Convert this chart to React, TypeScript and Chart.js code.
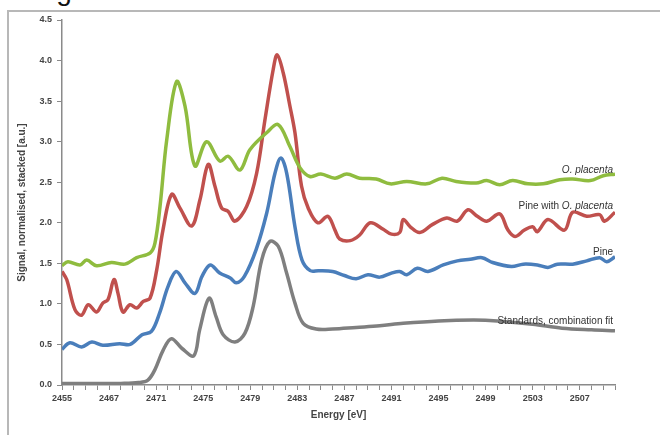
import React, { useEffect, useRef } from "react";
import { Chart, registerables } from "chart.js";

Chart.register(...registerables);

// ---------------- data ----------------
const greenEnergy = [2455, 2456.5, 2459.6, 2461.3, 2463.8, 2467.2, 2468.35, 2469.35, 2470.5, 2470.9, 2471.33, 2471.9, 2472.74, 2473.45, 2474.3, 2475.29, 2476.42, 2477.13, 2478.12, 2478.97, 2480.39, 2481.38, 2482.37, 2483.22, 2484.07, 2485.0, 2486.2, 2487.2, 2488.3, 2489.7, 2490.9, 2492.3, 2494.0, 2495.3, 2496.5, 2498.2, 2499.1, 2500.2, 2501.3, 2502.6, 2503.9, 2505.3, 2506.4, 2507.9, 2509.0, 2510.0];
const greenSignal = [1.47, 1.52, 1.48, 1.54, 1.47, 1.51, 1.49, 1.57, 1.63, 1.75, 2.2, 3.02, 3.74, 3.44, 2.7, 3.0, 2.76, 2.82, 2.65, 2.9, 3.11, 3.21, 2.94, 2.68, 2.57, 2.6, 2.55, 2.6, 2.55, 2.54, 2.48, 2.51, 2.48, 2.55, 2.51, 2.49, 2.52, 2.47, 2.52, 2.48, 2.48, 2.53, 2.54, 2.52, 2.58, 2.6];

const redEnergy = [2455, 2456.2, 2458.3, 2460.0, 2461.7, 2463.8, 2465.4, 2466.7, 2467.42, 2467.76, 2468.18, 2468.78, 2469.35, 2469.91, 2470.48, 2471.05, 2471.58, 2472.32, 2473.03, 2474.02, 2474.72, 2475.43, 2476.0, 2476.57, 2477.13, 2477.7, 2478.69, 2479.54, 2480.25, 2480.95, 2481.29, 2481.8, 2482.37, 2482.8, 2483.36, 2483.93, 2484.75, 2485.6, 2486.2, 2486.6, 2487.5, 2488.3, 2489.2, 2490.3, 2491.0, 2491.7, 2492.0, 2492.6, 2493.4, 2494.5, 2495.7, 2496.6, 2497.5, 2498.3, 2499.1, 2500.2, 2500.9, 2501.5, 2502.3, 2503.0, 2503.4, 2504.3, 2505.7, 2506.4, 2507.6, 2508.7, 2509.1, 2510.0];
const redSignal = [1.4, 1.3, 0.93, 0.86, 0.99, 0.9, 1.01, 1.05, 1.3, 1.13, 0.9, 0.99, 0.95, 1.03, 1.07, 1.42, 1.91, 2.35, 2.18, 1.96, 2.28, 2.72, 2.45, 2.18, 2.14, 2.02, 2.2, 2.61, 3.27, 3.89, 4.07, 3.85, 3.44, 3.11, 2.45, 2.18, 2.0, 2.08, 1.91, 1.8, 1.78, 1.85, 2.0, 1.92, 1.86, 1.88, 2.04, 1.95, 1.88, 1.98, 2.06, 2.02, 2.16, 2.08, 2.02, 2.11, 1.91, 1.83, 1.91, 1.95, 1.89, 2.04, 1.91, 2.13, 2.08, 2.1, 2.02, 2.13];

const blueEnergy = [2455, 2457.0, 2460.0, 2462.6, 2465.4, 2467.9, 2468.8, 2469.8, 2470.6, 2471.3, 2472.0, 2472.7, 2473.45, 2474.3, 2474.9, 2475.6, 2476.4, 2477.3, 2477.8, 2478.5, 2479.5, 2480.4, 2481.1, 2481.6, 2482.1, 2482.8, 2483.4, 2484.1, 2484.8, 2486.0, 2487.0, 2488.0, 2489.0, 2490.0, 2491.0, 2491.7, 2492.3, 2493.2, 2494.1, 2495.4, 2496.6, 2497.7, 2498.7, 2499.6, 2501.2, 2502.2, 2503.4, 2504.3, 2505.1, 2506.4, 2507.6, 2508.7, 2509.3, 2510.0];
const blueSignal = [0.44, 0.52, 0.47, 0.53, 0.49, 0.51, 0.5, 0.62, 0.66, 0.89, 1.21, 1.4, 1.26, 1.13, 1.34, 1.48, 1.38, 1.32, 1.26, 1.34, 1.67, 2.12, 2.61, 2.8, 2.61, 1.95, 1.54, 1.41, 1.41, 1.4, 1.35, 1.31, 1.36, 1.33, 1.38, 1.4, 1.36, 1.44, 1.4, 1.48, 1.53, 1.55, 1.57, 1.51, 1.46, 1.49, 1.48, 1.45, 1.49, 1.49, 1.53, 1.57, 1.52, 1.58];

const greyEnergy = [2455, 2460, 2465, 2468, 2469.5, 2470.3, 2470.9, 2471.6, 2472.3, 2473.2, 2474.2, 2474.7, 2475.5, 2476.1, 2476.7, 2477.7, 2478.55, 2479.25, 2479.97, 2480.67, 2481.38, 2482.09, 2482.8, 2483.5, 2484.6, 2486, 2488, 2490, 2492, 2495, 2498, 2500, 2503, 2505.5, 2508, 2510];
const greySignal = [0.02, 0.02, 0.02, 0.02, 0.03, 0.06, 0.19, 0.43, 0.57, 0.45, 0.36, 0.68, 1.07, 0.84, 0.62, 0.53, 0.64, 0.97, 1.54, 1.77, 1.71, 1.38, 1.01, 0.76, 0.69, 0.69, 0.71, 0.73, 0.76, 0.79, 0.8, 0.79, 0.75, 0.7, 0.68, 0.67];

const seriesNames = ["O. placenta", "Pine with O. placenta", "Pine", "Standards, combination fit"];
const xTickLabels = [2455, 2467, 2471, 2475, 2479, 2483, 2487, 2491, 2495, 2499, 2503, 2507];
const yTicks = [0, 0.5, 1, 1.5, 2, 2.5, 3, 3.5, 4, 4.5];
const xTitle = "Energy [eV]";
const yTitle = "Signal, normalised, stacked [a.u.]";

// Category-like axis of the original: the pre-edge region is compressed 3x
const EDGE = 2467;
const PRE = 3;
const toAxis = (e: number) => (e >= EDGE ? e : EDGE - (EDGE - e) / PRE);
const fromAxis = (u: number) => (u >= EDGE ? u : EDGE - (EDGE - u) * PRE);

const colors = ["#8fbc3f", "#c0504d", "#4a7ebb", "#7f7f7f"];

// label text parts: [text, italic]
const labelParts: [string, boolean][][] = [
  [["O. placenta", true]],
  [["Pine with ", false], ["O. placenta", true]],
  [["Pine", false]],
  [["Standards, combination fit", false]],
];
const labelLift = [1, 3, 2, 7];

const seriesLabelPlugin = {
  id: "seriesLabels",
  afterDatasetsDraw(chart: any) {
    const { ctx } = chart;
    ctx.save();
    ctx.fillStyle = "#333";
    ctx.textBaseline = "alphabetic";
    chart.data.datasets.forEach((_ds: any, i: number) => {
      const meta = chart.getDatasetMeta(i);
      const last = meta.data[meta.data.length - 1];
      const parts = labelParts[i];
      const fontFor = (it: boolean) => `${it ? "italic " : ""}10px "Liberation Sans", Arial, sans-serif`;
      let total = 0;
      parts.forEach(([t, it]) => {
        ctx.font = fontFor(it);
        total += ctx.measureText(t).width;
      });
      let x = chart.chartArea.right - 2 - total;
      const y = last.y - labelLift[i];
      parts.forEach(([t, it]) => {
        ctx.font = fontFor(it);
        ctx.textAlign = "left";
        ctx.fillText(t, x, y);
        x += ctx.measureText(t).width;
      });
    });
    ctx.restore();
  },
};

function makeData(en: number[], val: number[]) {
  return en.map((e, i) => ({ x: toAxis(e), y: val[i] }));
}

export default function App() {
  const ref = useRef<HTMLCanvasElement | null>(null);
  useEffect(() => {
    if (!ref.current) return;
    const series = [
      [greenEnergy, greenSignal],
      [redEnergy, redSignal],
      [blueEnergy, blueSignal],
      [greyEnergy, greySignal],
    ];
    const tickFont = { family: '"Liberation Sans", Arial, sans-serif', size: 9, weight: "bold" as const };
    const chart = new Chart(ref.current, {
      type: "line",
      data: {
        datasets: series.map(([e, v], i) => ({
          label: seriesNames[i],
          data: makeData(e, v),
          borderColor: colors[i],
          backgroundColor: colors[i],
          borderWidth: 3.5,
          pointRadius: 0,
          tension: 0.35,
          fill: false,
        })),
      },
      plugins: [seriesLabelPlugin],
      options: {
        animation: false,
        responsive: false,
        parsing: true,
        layout: { padding: { left: 8, right: 45, top: 20, bottom: 8 } },
        plugins: { legend: { display: false }, tooltip: { enabled: false } },
        scales: {
          x: {
            type: "linear",
            min: toAxis(2455),
            max: 2510,
            afterFit: (s: any) => {
              s.height = 42;
            },
            grid: { display: true, drawOnChartArea: false, drawTicks: true, tickLength: 5, color: "#8a8a8a", tickColor: "#8a8a8a" },
            border: { display: true, color: "#8a8a8a", width: 1.5 },
            ticks: {
              stepSize: 1,
              autoSkip: false,
              maxRotation: 0,
              padding: 3,
              color: "#444",
              font: tickFont,
              callback: (v: any) => {
                const e = Math.round(fromAxis(Number(v)));
                return xTickLabels.includes(e) && Math.abs(fromAxis(Number(v)) - e) < 1e-6 ? String(e) : "";
              },
            },
            title: {
              display: true,
              text: xTitle,
              color: "#444",
              font: { family: '"Liberation Sans", Arial, sans-serif', size: 10, weight: "bold" },
              padding: { top: 0, bottom: 6 },
            },
          },
          y: {
            min: 0,
            max: 4.5,
            afterFit: (s: any) => {
              s.width = 54;
            },
            afterBuildTicks: (s: any) => {
              s.ticks = yTicks.map((v) => ({ value: v }));
            },
            grid: { display: true, drawOnChartArea: false, drawTicks: true, tickLength: 5, color: "#8a8a8a", tickColor: "#8a8a8a" },
            border: { display: true, color: "#8a8a8a", width: 1.5 },
            ticks: {
              padding: 5,
              color: "#444",
              font: tickFont,
              callback: (v: any) => Number(v).toFixed(1),
            },
            title: {
              display: true,
              text: yTitle,
              color: "#444",
              font: { family: '"Liberation Sans", Arial, sans-serif', size: 10, weight: "bold" },
              padding: { top: 8, bottom: 0 },
            },
          },
        },
      },
    } as any);
    return () => chart.destroy();
  }, []);

  return (
    <div style={{ position: "fixed", left: 0, top: 0, width: 660, height: 435, overflow: "hidden", background: "#fff" }}>
      <div
        style={{
          position: "absolute",
          left: 33,
          top: -23,
          fontFamily: "Arial, 'Liberation Sans', sans-serif",
          fontSize: 28,
          lineHeight: "28px",
          color: "#111",
          whiteSpace: "nowrap",
        }}
      >
        Fig. 2
      </div>
      <div
        style={{
          position: "absolute",
          left: 7,
          top: 10,
          width: 700,
          height: 500,
          borderLeft: "2px solid #b8b8b8",
          borderTop: "2px solid #b8b8b8",
        }}
      />
      <canvas ref={ref} width={660} height={435} style={{ position: "absolute", left: 0, top: 0, width: 660, height: 435 }} />
    </div>
  );
}
